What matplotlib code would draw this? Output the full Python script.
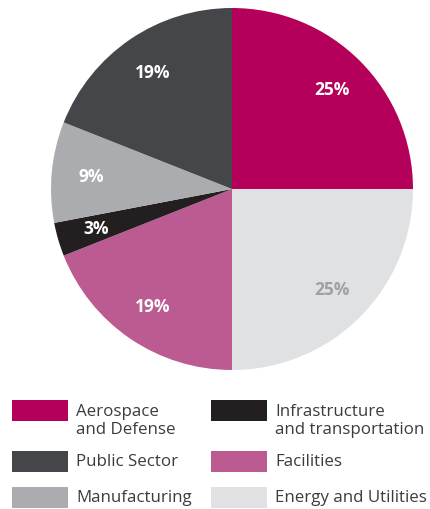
import matplotlib

matplotlib.use("Agg")
import matplotlib.pyplot as plt
from matplotlib.patches import Rectangle

# slices, clockwise from 12 o'clock
LABELS = [
    "Aerospace\nand Defense",
    "Energy and Utilities",
    "Facilities",
    "Infrastructure\nand transportation",
    "Manufacturing",
    "Public Sector",
]
SHARES = [25, 25, 19, 3, 9, 19]
COLORS = ["#B4005A", "#E0E1E3", "#BC5B91", "#231F20", "#ABACAF", "#454649"]
PCT_COLORS = ["white", "#A0A0A3", "white", "white", "white", "white"]

# legend layout: column-wise order
LEGEND_ORDER = [0, 5, 4, 3, 2, 1]

W, H = 430, 510
FONT = "Open Sans"
TEXT = "#3C3C3C"

fig = plt.figure(figsize=(W / 100, H / 100), dpi=100)
fig.patch.set_facecolor("white")

cx, cy, r = 232, 190, 181
ax = fig.add_axes([(cx - r) / W, 1 - (cy + r) / H, 2 * r / W, 2 * r / H])
wedges, _, autotexts = ax.pie(
    SHARES,
    colors=COLORS,
    startangle=90,
    counterclock=False,
    autopct=lambda p: f"{p:.0f}%",
    pctdistance=0.78,
    wedgeprops={"linewidth": 0},
    textprops={"fontsize": 12.5, "fontweight": "bold", "family": FONT},
)
for t, c in zip(autotexts, PCT_COLORS):
    t.set_color(c)
ax.set_xlim(-1, 1)
ax.set_ylim(-1, 1)
ax.axis("off")

# legend drawn by hand in pixel units
lax = fig.add_axes([0, 0, 1, 1])
lax.set_xlim(0, W)
lax.set_ylim(H, 0)
lax.axis("off")
col_x = [12, 211]
row_y = [401, 452, 488]
for k, i in enumerate(LEGEND_ORDER):
    col, row = divmod(k, 3)
    x0, y0 = col_x[col], row_y[row]
    lax.add_patch(Rectangle((x0, y0), 56, 21, facecolor=COLORS[i], edgecolor="none"))
    lax.text(x0 + 64, y0 + 10.5 + (9.5 if "\n" in LABELS[i] else 0), LABELS[i],
             va="center", ha="left", fontsize=12.2, color=TEXT, family=FONT,
             linespacing=1.12)

fig.savefig("out.png", dpi=100)
